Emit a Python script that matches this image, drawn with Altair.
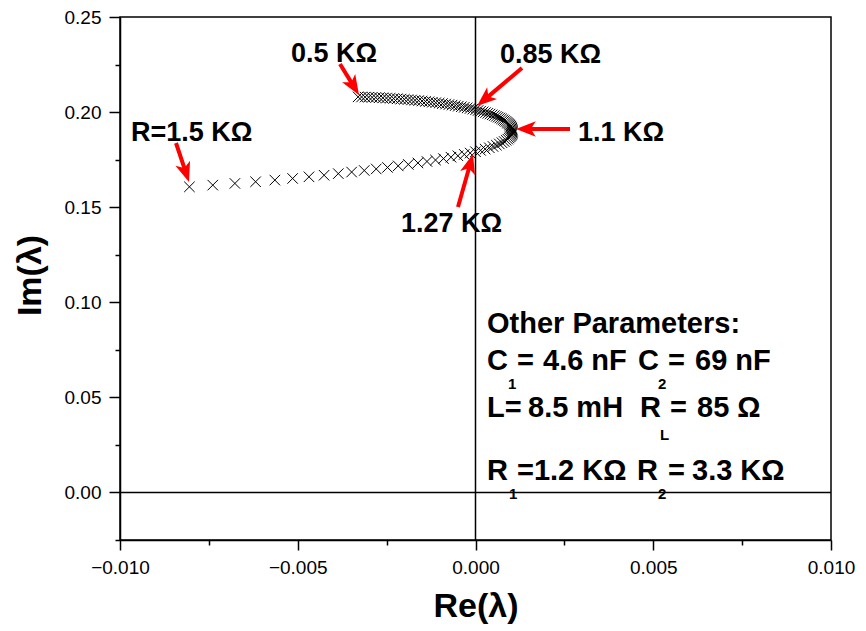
import math
import altair as alt
import pandas as pd

# Eigenvalue locus: Re(λ) and Im(λ) for R = 0.50 ... 1.50 KΩ in steps of 0.01 KΩ
re_vals = [
    -0.003302, -0.003204, -0.003105, -0.003006, -0.002906, -0.002806, -0.002706, -0.002605, -0.002504, -0.002404,
    -0.002303, -0.002202, -0.002101, -0.002000, -0.001900, -0.001800, -0.001701, -0.001602, -0.001503, -0.001406,
    -0.001309, -0.001213, -0.001118, -0.001023, -0.000930, -0.000839, -0.000748, -0.000659, -0.000571, -0.000484,
    -0.000399, -0.000316, -0.000234, -0.000154, -0.000076, 0.000000, 0.000074, 0.000146, 0.000215, 0.000283,
    0.000348, 0.000411, 0.000471, 0.000529, 0.000584, 0.000636, 0.000686, 0.000732, 0.000776, 0.000816,
    0.000854, 0.000888, 0.000919, 0.000947, 0.000971, 0.000992, 0.001009, 0.001022, 0.001032, 0.001038,
    0.001040, 0.001038, 0.001031, 0.001019, 0.001001, 0.000977, 0.000946, 0.000908, 0.000862, 0.000807,
    0.000744, 0.000670, 0.000587, 0.000493, 0.000388, 0.000271, 0.000142, 0.000000, -0.000150, -0.000315,
    -0.000495, -0.000690, -0.000900, -0.001125, -0.001365, -0.001620, -0.001890, -0.002175, -0.002475, -0.002793,
    -0.003129, -0.003484, -0.003859, -0.004259, -0.004684, -0.005144, -0.005644, -0.006186, -0.006768, -0.007390,
    -0.008047,
]
im_vals = [
    0.20800, 0.20795, 0.20789, 0.20783, 0.20775, 0.20767, 0.20758, 0.20748, 0.20737, 0.20725,
    0.20713, 0.20699, 0.20685, 0.20670, 0.20654, 0.20637, 0.20620, 0.20601, 0.20582, 0.20561,
    0.20540, 0.20518, 0.20495, 0.20472, 0.20447, 0.20422, 0.20395, 0.20368, 0.20340, 0.20311,
    0.20281, 0.20251, 0.20219, 0.20187, 0.20154, 0.20120, 0.20085, 0.20049, 0.20013, 0.19975,
    0.19937, 0.19898, 0.19858, 0.19817, 0.19775, 0.19733, 0.19689, 0.19645, 0.19600, 0.19554,
    0.19507, 0.19459, 0.19411, 0.19361, 0.19311, 0.19260, 0.19208, 0.19155, 0.19101, 0.19047,
    0.18991, 0.18935, 0.18878, 0.18820, 0.18761, 0.18701, 0.18640, 0.18579, 0.18517, 0.18453,
    0.18390, 0.18325, 0.18259, 0.18192, 0.18125, 0.18057, 0.17987, 0.17917, 0.17846, 0.17775,
    0.17702, 0.17629, 0.17554, 0.17479, 0.17403, 0.17326, 0.17248, 0.17170, 0.17090, 0.17010,
    0.16929, 0.16847, 0.16764, 0.16680, 0.16596, 0.16510, 0.16424, 0.16337, 0.16249, 0.16160,
    0.16070,
]

x_major = [-0.010, -0.005, 0.0, 0.005, 0.010]
x_minor = [-0.0075, -0.0025, 0.0025, 0.0075]
y_major = [0.00, 0.05, 0.10, 0.15, 0.20, 0.25]
y_minor = [-0.025, 0.025, 0.075, 0.125, 0.175, 0.225]

# plot-area geometry inside the 866 x 631 canvas
W, H = 711, 523
LEFT, TOP = 120, 17
FONT = "Liberation Sans"
RED = "#ff0000"

CROSS = "M-1,-1L1,1M-1,1L1,-1"
HEAD = "M0,0L0.7,1.8L0,1.35L-0.7,1.8Z"

curve = pd.DataFrame({"re": re_vals, "im": im_vals})
one_row = alt.Data(values=[{}])

x_scale = alt.Scale(domain=[-0.010, 0.010], nice=False, zero=False)
y_scale = alt.Scale(domain=[-0.025, 0.25], nice=False, zero=False)

axis_common = dict(
    grid=False, labelFont=FONT, labelColor="black", labelFlush=False,
    labelOverlap=False, labelBound=False, tickColor="black", tickWidth=1.5,
    domainColor="black", domainWidth=1.5, titleFont=FONT, titleColor="black",
    titleFontWeight="bold", titleFontSize=34,
)

points = alt.Chart(curve).mark_point(
    shape=CROSS, size=110, filled=False, color="black", strokeWidth=1, opacity=1
).encode(
    x=alt.X("re:Q", scale=x_scale, axis=alt.Axis(
        values=x_major, format=".3f", orient="bottom", title="Re(λ)",
        labelFontSize=19, labelPadding=8, tickSize=10,
        titleX=W / 2, titleY=66, titleAlign="center", titleBaseline="middle",
        **axis_common)),
    y=alt.Y("im:Q", scale=y_scale, axis=alt.Axis(
        values=y_major, format=".2f", orient="left", title="Im(λ)",
        labelFontSize=19, labelPadding=8, tickSize=11,
        titleX=-90, titleY=258, titleAngle=270, titleAlign="center",
        titleBaseline="middle", **axis_common)),
)

# zero lines, which also carry the minor tick marks
minor_common = dict(grid=False, labels=False, domain=False, tickSize=5,
                    tickWidth=1.5, tickColor="black", title="")
vline = alt.Chart(one_row).mark_rule(color="black", strokeWidth=1.5).encode(
    x=alt.XDatum(0, type="quantitative", scale=x_scale,
                 axis=alt.Axis(values=x_minor, orient="bottom", **minor_common))
)
hline = alt.Chart(one_row).mark_rule(color="black", strokeWidth=1.5).encode(
    y=alt.YDatum(0, type="quantitative", scale=y_scale,
                 axis=alt.Axis(values=y_minor, orient="left", **minor_common))
)


def label(text, x, y, size=27):
    return alt.Chart(one_row).mark_text(
        text=text, font=FONT, fontSize=size, fontWeight="bold",
        align="left", baseline="alphabetic", color="black"
    ).encode(x=alt.value(x - LEFT), y=alt.value(y - TOP))


def arrow(x0, y0, x1, y1):
    dx, dy = x1 - x0, y1 - y0
    length = math.hypot(dx, dy)
    ux, uy = dx / length, dy / length
    sx, sy = x1 - ux * 13, y1 - uy * 13
    ang = math.degrees(math.atan2(dx, -dy)) % 360
    shaft = alt.Chart(one_row).mark_rule(color=RED, strokeWidth=4).encode(
        x=alt.value(x0 - LEFT), y=alt.value(y0 - TOP),
        x2=alt.value(sx - LEFT), y2=alt.value(sy - TOP))
    head = alt.Chart(one_row).mark_point(
        shape=HEAD, size=484, filled=True, color=RED, opacity=1, angle=ang
    ).encode(x=alt.value(x1 - LEFT), y=alt.value(y1 - TOP))
    return [shaft, head]


labels = [
    label("0.5 KΩ", 291, 62),
    label("0.85 KΩ", 500, 63),
    label("R=1.5 KΩ", 131, 141),
    label("1.1 KΩ", 578, 141),
    label("1.27 KΩ", 401, 232),
    # parameter block
    label("Other Parameters:", 487, 333, 29),
    label("C", 487, 370, 29), label("1", 508, 389, 15),
    label("=", 517, 370, 29), label("4.6 nF", 543, 370, 29),
    label("C", 638, 370, 29), label("2", 658, 389, 15),
    label("=", 668, 370, 29), label("69 nF", 695, 370, 29),
    label("L=", 487, 417, 29), label("8.5 mH", 528, 417, 29),
    label("R", 640, 417, 29), label("L", 660, 440, 15),
    label("=", 670, 417, 29), label("85 Ω", 697, 417, 29),
    label("R", 487, 480, 29), label("1", 509, 499, 15),
    label("=1.2 KΩ", 517, 480, 29),
    label("R", 637, 480, 29), label("2", 658, 499, 15),
    label("=", 668, 480, 29), label("3.3 KΩ", 692, 480, 29),
]

arrows = (
    arrow(176, 143, 189, 182)
    + arrow(340, 64, 359, 95)
    + arrow(522, 68, 477, 106)
    + arrow(570, 129, 516, 129)
    + arrow(458, 207, 473, 154)
)

chart = alt.layer(vline, hline, points, *labels, *arrows).resolve_axis(
    x="independent", y="independent"
).properties(
    width=W, height=H,
    padding={"left": LEFT, "top": TOP, "right": 866 - LEFT - W, "bottom": 631 - TOP - H},
    autosize=alt.AutoSizeParams(type="none"),
    background="white",
).configure_view(stroke="black", strokeWidth=1.5)

chart.save("out.html", embed_options={"renderer": "svg", "actions": False})
